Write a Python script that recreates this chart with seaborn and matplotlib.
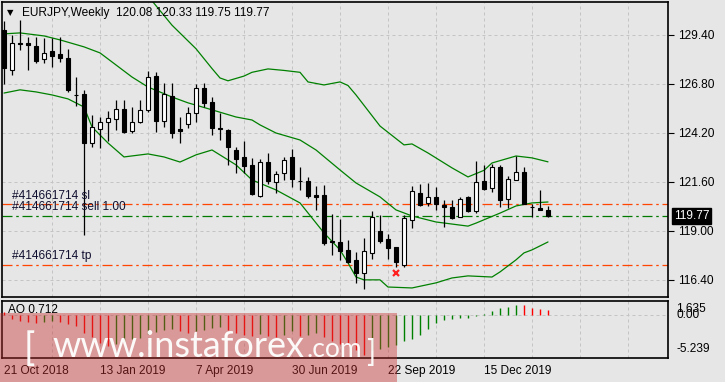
import matplotlib
matplotlib.use("Agg")
import matplotlib.pyplot as plt
import matplotlib.transforms as mtransforms
from matplotlib.patches import Rectangle
import seaborn as sns
import numpy as np

# weekly candles, index 0 = week of 21 Oct 2018
opens = [129.65, 127.53, 128.93, 128.97, 128.80, 128.09, 128.55, 128.36, 128.15, 126.22,
         126.25, 123.67, 124.38, 124.77, 124.91, 125.44, 124.29, 124.78, 125.40, 127.21,
         124.84, 126.15, 124.38, 124.66, 125.26, 126.56, 125.81, 124.45, 124.34, 123.28,
         122.90, 122.49, 120.84, 122.63, 121.60, 122.05, 122.90, 121.66, 121.64, 120.90,
         120.90, 118.43, 118.39, 117.98, 117.45, 116.74, 117.80, 118.99, 118.56, 118.12,
         117.18, 119.57, 120.98, 120.45, 120.80, 120.36, 120.24, 119.71, 120.77, 120.06,
         121.64, 121.25, 122.36, 120.67, 121.69, 122.13, 120.26, 120.21, 120.08]
highs = [130.10, 129.38, 130.18, 129.29, 129.26, 129.21, 129.21, 129.26, 128.62, 127.17,
         126.47, 125.14, 125.05, 125.37, 125.93, 125.93, 125.55, 125.93, 127.49, 127.44,
         126.85, 126.82, 125.05, 125.55, 126.78, 126.82, 126.08, 125.23, 124.40, 123.43,
         123.76, 122.84, 122.79, 123.14, 122.17, 122.93, 123.32, 122.36, 121.87, 121.37,
         121.43, 119.89, 119.61, 118.51, 117.89, 118.60, 120.06, 119.83, 118.83, 118.15,
         119.83, 121.37, 121.48, 121.52, 121.34, 120.63, 120.63, 120.77, 120.84, 122.72,
         122.49, 122.54, 122.49, 121.90, 122.96, 122.36, 120.42, 121.16, 120.33]
lows = [126.80, 127.26, 128.60, 127.53, 127.88, 127.88, 127.70, 127.97, 126.38, 125.62,
        118.78, 123.43, 123.37, 123.78, 124.34, 124.17, 124.20, 124.70, 125.31, 124.25,
        124.49, 123.90, 123.64, 124.43, 124.78, 125.58, 124.08, 123.81, 122.49, 122.08,
        122.08, 120.90, 120.77, 121.48, 120.99, 121.69, 121.34, 121.16, 120.72, 120.10,
        118.24, 117.71, 117.45, 117.27, 116.24, 115.89, 117.48, 118.36, 117.48, 117.09,
        117.09, 119.13, 120.31, 120.31, 120.10, 119.21, 119.64, 119.71, 120.01, 119.96,
        121.16, 121.07, 120.24, 120.19, 121.69, 120.42, 119.75, 120.10, 119.75]
closes = [127.63, 128.94, 128.90, 128.84, 128.02, 128.44, 128.28, 128.18, 126.47, 126.18,
          123.67, 124.52, 124.75, 124.96, 125.44, 124.25, 124.75, 125.40, 127.17, 124.84,
          126.25, 124.20, 124.27, 125.26, 126.56, 125.79, 124.43, 124.41, 123.46, 122.79,
          122.43, 120.92, 122.63, 121.65, 121.99, 122.75, 121.73, 121.64, 120.84, 120.80,
          118.33, 118.41, 117.94, 117.36, 116.77, 117.92, 119.71, 118.45, 118.07, 117.36,
          119.65, 121.12, 120.36, 120.77, 120.42, 120.24, 119.69, 120.67, 120.06, 121.60,
          121.21, 122.36, 120.63, 121.73, 122.13, 120.42, 120.24, 120.10, 119.77]

# Bollinger bands
upper_idx = [14, 18, 21, 24, 26, 27, 28, 30, 31, 33, 35, 37, 38, 40, 42, 43, 44, 47, 50,
             51, 53, 56, 58, 60, 61, 64, 66, 68]
upper_val = [133.40, 131.45, 129.90, 128.65, 127.60, 127.10, 126.95, 127.20, 127.40, 127.58,
             127.50, 127.40, 126.89, 126.73, 126.89, 126.70, 126.20, 124.55, 123.55, 123.60,
             123.12, 122.33, 121.85, 122.20, 122.59, 122.96, 122.86, 122.65]
mid_idx = [0, 2, 5, 7, 10, 12, 14, 16, 18, 21, 23, 26, 29, 31, 32, 34, 37, 39, 42, 44,
           47, 49, 51, 54, 58, 59, 62, 64, 66, 68]
mid_val = [129.44, 129.49, 129.33, 129.12, 128.75, 128.43, 127.79, 127.15, 126.62, 126.09,
           125.78, 125.41, 125.03, 124.87, 124.61, 124.18, 123.81, 123.28, 122.22, 121.53,
           120.79, 120.10, 119.78, 119.46, 119.24, 119.40, 119.93, 120.31, 120.47, 120.52]
lower_idx = [0, 2, 4, 6, 8, 10, 11, 13, 15, 18, 20, 22, 24, 26, 29, 31, 34, 37, 38, 40,
             42, 43, 44, 45, 47, 48, 51, 54, 56, 58, 61, 62, 64, 65, 66, 68]
lower_val = [126.30, 126.47, 126.36, 126.20, 125.99, 125.56, 124.50, 123.65, 122.91, 123.07,
             122.91, 122.64, 123.02, 123.28, 122.49, 121.69, 121.16, 120.47, 119.94, 118.88,
             117.98, 117.29, 116.54, 116.39, 116.39, 116.01, 115.96, 116.23, 116.49, 116.60,
             116.54, 116.81, 117.45, 117.82, 117.98, 118.40]

# Awesome Oscillator
ao = [0.45, -0.51, -0.72, -0.89, -1.02, -0.94, -0.81, -0.89, -1.20, -1.46,
      -2.31, -2.87, -3.69, -4.03, -3.81, -3.52, -3.17, -3.00, -2.53, -2.23,
      -1.97, -1.80, -2.10, -2.40, -2.10, -1.88, -1.71, -1.54, -1.97, -2.40,
      -2.66, -2.74, -2.53, -2.74, -2.83, -2.57, -2.13, -2.70, -2.57, -2.35,
      -2.91, -3.35, -3.78, -4.00, -4.64, -5.239, -4.64, -4.42, -4.20, -4.00,
      -3.47, -3.13, -2.57, -1.84, -1.03, -0.56, -0.43, -0.40, -0.34, -0.13,
      0.17, 0.60, 0.95, 1.08, 1.45, 1.33, 0.98, 0.80, 0.712]

price_ticks = [116.40, 119.00, 121.60, 124.20, 126.80, 129.40]
date_ticks = [0, 12, 24, 36, 48, 60]
date_labels = ["21 Oct 2018", "13 Jan 2019", "7 Apr 2019", "30 Jun 2019", "22 Sep 2019", "15 Dec 2019"]
ao_ticks = [1.635, 0.0, -5.239]
ao_tick_labels = ["1.635", "0.00", "-5.239"]

order_id = "#414661714"
sl_price = 120.40
open_price = 119.80
tp_price = 117.20
bid_price = 119.77
closed_mark = (49, 116.77)

BG = "#e6e6e6"
GRID = "#c4c4c4"
W, H = 725, 382

sns.set_theme(style="white")
plt.rcParams["font.family"] = ["Liberation Sans", "DejaVu Sans"]
plt.rcParams["axes.facecolor"] = BG
plt.rcParams["figure.facecolor"] = BG
FS = 8.6

fig = plt.figure(figsize=(W / 100, H / 100), dpi=100)

def box(x0, y0, x1, y1):
    return [x0 / W, 1 - y1 / H, (x1 - x0) / W, (y1 - y0) / H]

ax = fig.add_axes(box(2, 2, 668, 297))
ax2 = fig.add_axes(box(2, 301, 668, 358))

idx = np.arange(len(opens))
o = np.array(opens); c = np.array(closes)
xmin, xmax = -0.25, 83.0

# ---- main panel
for a in (ax, ax2):
    a.set_xlim(xmin, xmax)
    for gx in range(6, 84, 6):
        a.axvline(gx, color=GRID, lw=0.72, ls=(0, (3, 3)), zorder=0)
    for s in a.spines.values():
        s.set_color("black"); s.set_linewidth(1.2)

ax.set_ylim(115.48, 131.13)
for p in price_ticks:
    ax.axhline(p, color=GRID, lw=0.72, ls=(0, (3, 3)), zorder=0)

sns.lineplot(x=upper_idx, y=upper_val, ax=ax, color="#008000", lw=0.9, zorder=2)
sns.lineplot(x=mid_idx, y=mid_val, ax=ax, color="#008000", lw=0.9, zorder=2)
sns.lineplot(x=lower_idx, y=lower_val, ax=ax, color="#008000", lw=0.9, zorder=2)

ax.axhline(sl_price, color="#ff4500", lw=0.9, ls=(0, (8, 3, 2, 3)), zorder=1)
ax.axhline(tp_price, color="#ff4500", lw=0.9, ls=(0, (8, 3, 2, 3)), zorder=1)
ax.axhline(open_price, color="#007a00", lw=0.9, ls=(0, (8, 3, 2, 3)), zorder=1)

ax.vlines(idx, lows, highs, color="black", lw=0.9, zorder=3)
body_h = np.maximum(np.abs(c - o), 0.02)
fills = np.where(c >= o, "white", "black")
ax.bar(idx, body_h, bottom=np.minimum(o, c), width=0.5, color=fills,
       edgecolor="black", linewidth=0.8, zorder=4)

ax.plot([closed_mark[0]], [closed_mark[1]], marker="x", color="#ff2020", ms=5, mew=1.6, zorder=5)

for txt, yv in [(order_id + " sl", sl_price), (order_id + " sell 1.00", open_price),
                (order_id + " tp", tp_price)]:
    ax.annotate(txt, xy=(1.0, yv), xytext=(0, 1.5), textcoords="offset points",
                fontsize=FS, color="#101030", va="bottom", ha="left", zorder=6)

ax.set_xticks([])
ax.yaxis.tick_right()
ax.set_yticks(price_ticks)
ax.set_yticklabels([f"{p:.2f}" for p in price_ticks])
ax.tick_params(axis="y", direction="out", length=4, width=0.8, color="black",
               labelsize=FS, labelcolor="black", pad=3)

trans = mtransforms.blended_transform_factory(ax.transAxes, ax.transData)
ax.text(1.0 + 6 / 666, bid_price, f"{bid_price:.2f}", transform=trans, color="white",
        fontsize=FS, va="center", ha="left", clip_on=False,
        bbox=dict(boxstyle="square,pad=0.15", facecolor="black", edgecolor="black"))

ax.text(20 / 666, 1 - 11 / 295, "EURJPY,Weekly  120.08 120.33 119.75 119.77",
        transform=ax.transAxes, fontsize=FS, color="black", va="center", ha="left")
ax.text(5 / 666, 1 - 11 / 295, "▼", transform=ax.transAxes, fontsize=6,
        family="DejaVu Sans", color="black", va="center", ha="left")

# ---- AO panel
ax2.set_ylim(-5.68, 1.92)
ax2.axhline(0, color=GRID, lw=0.72, ls=(0, (3, 3)), zorder=0)
ao_arr = np.array(ao)
ao_col = ["#ff0000"] + ["#008000" if ao_arr[i] > ao_arr[i - 1] else "#ff0000" for i in range(1, len(ao))]
ax2.vlines(idx, 0, ao_arr, colors=ao_col, lw=1.0, zorder=3)
ax2.text(6 / 666, 1 - 9 / 57, "AO 0.712", transform=ax2.transAxes, fontsize=FS,
         color="black", va="center", ha="left")

ax2.yaxis.tick_right()
ax2.set_yticks(ao_ticks)
ax2.set_yticklabels(ao_tick_labels)
ax2.tick_params(axis="y", length=0, labelsize=FS, labelcolor="black", pad=6)
for lab, va in zip(ax2.get_yticklabels(), ["top", "center", "bottom"]):
    lab.set_va(va)

ax2.set_xticks(date_ticks)
ax2.set_xticklabels(date_labels)
ax2.tick_params(axis="x", direction="out", length=3, width=0.8, color="black",
                labelsize=FS, labelcolor="black", pad=2)
for lab in ax2.get_xticklabels():
    lab.set_ha("left")

# ---- watermark
fig.add_artist(Rectangle((0, 0), 397 / W, 1 - 313 / H, transform=fig.transFigure,
                         facecolor="#c83030", alpha=0.42, edgecolor="none", zorder=10))
wm = dict(color="white", alpha=0.95, va="baseline", ha="left", zorder=11,
          family=["Lato", "Liberation Sans"], weight="normal")
fig.text(24 / W, 1 - 360 / H, "[", fontsize=27, **wm)
fig.text(52 / W, 1 - 357 / H, "www.instaforex", fontsize=26, **wm)
fig.text(307 / W, 1 - 357 / H, ".com", fontsize=19, **wm)
fig.text(366 / W, 1 - 362 / H, "]", fontsize=22, **wm)

fig.savefig("out.png", dpi=100, facecolor=BG)
